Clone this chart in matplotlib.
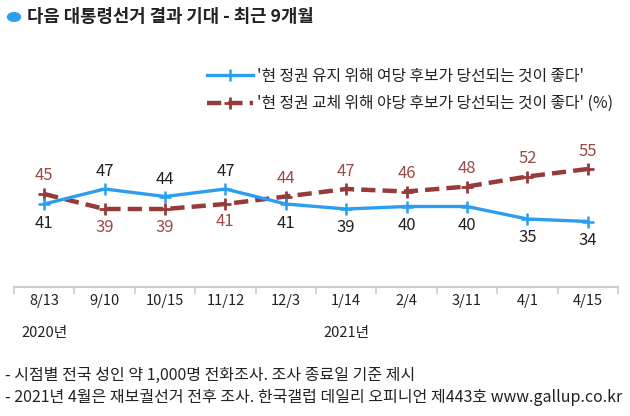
import matplotlib
matplotlib.use("Agg")
import matplotlib.pyplot as plt
from matplotlib.patches import Circle

plt.rcParams['font.family'] = ['Noto Sans CJK KR', 'DejaVu Sans']

categories = ["8/13\n2020년", "9/10", "10/15", "11/12", "12/3", "1/14\n2021년", "2/4", "3/11", "4/1", "4/15"]
keep = [41, 47, 44, 47, 41, 39, 40, 40, 35, 34]
change = [45, 39, 39, 41, 44, 47, 46, 48, 52, 55]
keep_pos = ["below", "above", "above", "above", "below", "below", "below", "below", "below", "below"]
change_pos = ["above", "below", "below", "below", "above", "above", "above", "above", "above", "above"]
title = "다음 대통령선거 결과 기대 - 최근 9개월"
label_keep = "'현 정권 유지 위해 여당 후보가 당선되는 것이 좋다'"
label_change = "'현 정권 교체 위해 야당 후보가 당선되는 것이 좋다' (%)"
notes = ["- 시점별 전국 성인 약 1,000명 전화조사. 조사 종료일 기준 제시",
         "- 2021년 4월은 재보궐선거 전후 조사. 한국갤럽 데일리 오피니언 제443호 www.gallup.co.kr"]

BLUE = "#2b9ef2"
RED = "#963a3a"
RED_TXT = "#9a4a48"

W, H = 630, 416
fig = plt.figure(figsize=(W / 100, H / 100), dpi=100)
ax = fig.add_axes([14 / W, 1 - 287 / H, (618 - 14) / W, (287 - 130) / H])
ax.set_xlim(-0.5, len(categories) - 0.5)
ax.set_ylim(7.8, 70.6)

x = list(range(len(categories)))
l1, = ax.plot(x, keep, color=BLUE, lw=2.4, marker='+', ms=8, mew=1.8, zorder=3)
l2, = ax.plot(x, change, color=RED, lw=3.2, ls=(0, (3.2, 1.6)), marker='+', ms=9, mew=2.0, zorder=2)

for xi, v, p in zip(x, keep, keep_pos):
    dy = 17 if p == "above" else -19
    ax.annotate(str(v), (xi, v), xytext=(0, dy), textcoords='offset pixels',
                ha='center', va='center', fontsize=12, color='#222222')
for xi, v, p in zip(x, change, change_pos):
    dy = 18 if p == "above" else -18
    ax.annotate(str(v), (xi, v), xytext=(0, dy), textcoords='offset pixels',
                ha='center', va='center', fontsize=12, color=RED_TXT)

for s in ['top', 'right', 'left']:
    ax.spines[s].set_visible(False)
ax.spines['bottom'].set_color('#cccccc')
ax.spines['bottom'].set_linewidth(1.5)
ax.set_yticks([])
ax.set_xticks([i - 0.5 for i in range(len(categories) + 1)], minor=False)
ax.set_xticklabels([])
ax.tick_params(axis='x', which='major', length=5, color='#cccccc', width=1.2, direction='out')
ax.set_xticks(x, minor=True)
ax.set_xticklabels(categories, minor=True, fontsize=10.5, color='#222222', linespacing=2.6)
ax.tick_params(axis='x', which='minor', length=0, pad=5)

# title
fig.patches.append(Circle((14 / W, 1 - 17 / H), 6.5 / W, transform=fig.transFigure,
                          color=BLUE, zorder=5))
fig.text(27 / W, 1 - 17 / H, title, fontsize=12.8, fontweight='bold', color='#222222',
         ha='left', va='center')

leg = fig.legend([l1, l2], [label_keep, label_change], loc='upper left',
                 bbox_to_anchor=(199 / W, 1 - 60 / H), frameon=False, fontsize=11.4,
                 handlelength=2.9, handletextpad=0.25, labelspacing=0.65, borderpad=0)
for t in leg.get_texts():
    t.set_color('#222222')

fig.text(5 / W, 1 - 375 / H, notes[0], fontsize=11.5, color='#222222', ha='left', va='center')
fig.text(5 / W, 1 - 398 / H, notes[1], fontsize=11.5, color='#222222', ha='left', va='center')

fig.savefig("out.png", dpi=100)
